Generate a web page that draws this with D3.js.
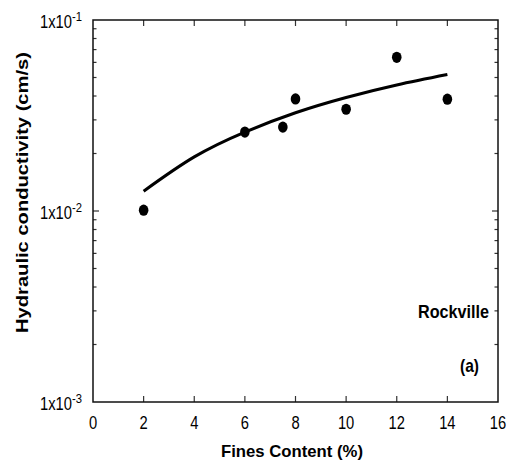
<!DOCTYPE html>
<html>
<head>
<meta charset="utf-8">
<script src="https://cdn.jsdelivr.net/npm/d3@7"></script>
<style>
body { margin: 0; background: #fff; }
text { font-family: "Liberation Sans", Arial, sans-serif; fill: #000; }
.bold { font-weight: bold; }
</style>
</head>
<body>
<svg id="chart" width="510" height="463"></svg>
<script>
// measured points, fines content (%) vs hydraulic conductivity (cm/s)
var fines = [2, 6, 7.5, 8, 10, 12, 14];
var kvals = [0.0101, 0.0259, 0.0275, 0.0386, 0.0341, 0.0638, 0.0385];

// fitted trend line
var fitX = [2, 4, 6, 8, 10, 12, 14];
var fitY = [0.0127, 0.0192, 0.0259, 0.0327, 0.0393, 0.0457, 0.0518];

var xTicks = [0, 2, 4, 6, 8, 10, 12, 14, 16];
var yDecades = [-3, -2, -1];

var pLeft = 93, pRight = 498, pTop = 20, pBottom = 402;

var svg = d3.select("#chart");

var x = d3.scaleLinear().domain([0, 16]).range([pLeft, pRight]);
var y = d3.scaleLog().domain([0.001, 0.1]).range([pBottom, pTop]);

// minor log ticks 2..9 in each decade
var minor = [];
for (var k = -3; k < -1; k++) {
    for (var m = 2; m <= 9; m++) minor.push(m * Math.pow(10, k));
}

var g = svg.append("g");

// ticks on all four sides, pointing inward
g.selectAll(".tb").data(xTicks.slice(1, -1)).enter()
    .append("line")
    .attr("x1", function(d){ return x(d); })
    .attr("x2", function(d){ return x(d); })
    .attr("y1", pBottom).attr("y2", pBottom - 6)
    .attr("stroke", "#333").attr("stroke-width", 1.2);
g.selectAll(".tt").data(xTicks.slice(1, -1)).enter()
    .append("line")
    .attr("x1", function(d){ return x(d); })
    .attr("x2", function(d){ return x(d); })
    .attr("y1", pTop).attr("y2", pTop + 6)
    .attr("stroke", "#333").attr("stroke-width", 1.2);

[pLeft, pRight].forEach(function(side) {
    var dir = side == pLeft ? 1 : -1;
    g.selectAll(null).data(minor).enter()
        .append("line")
        .attr("x1", side).attr("x2", side + dir * 3.5)
        .attr("y1", function(d){ return y(d); })
        .attr("y2", function(d){ return y(d); })
        .attr("stroke", "#333").attr("stroke-width", 1.2);
    g.append("line")
        .attr("x1", side).attr("x2", side + dir * 6)
        .attr("y1", y(0.01)).attr("y2", y(0.01))
        .attr("stroke", "#333").attr("stroke-width", 1.2);
});

// frame
g.append("rect")
    .attr("x", pLeft).attr("y", pTop)
    .attr("width", pRight - pLeft).attr("height", pBottom - pTop)
    .attr("fill", "none").attr("stroke", "#111").attr("stroke-width", 1.5);

// x tick labels (condensed look)
g.selectAll(".xl").data(xTicks).enter()
    .append("text")
    .attr("x", function(d){ return x(d); })
    .attr("y", pBottom + 27)
    .attr("text-anchor", "middle")
    .attr("font-size", 18)
    .attr("textLength", function(d){ return String(d).length * 8.2; })
    .attr("lengthAdjust", "spacingAndGlyphs")
    .text(function(d){ return d; });

// y tick labels 1x10^n, one text element each
var yl = g.selectAll(".yl").data(yDecades).enter()
    .append("text")
    .attr("x", pLeft - 11)
    .attr("y", function(d){ return y(Math.pow(10, d)) + 8; })
    .attr("text-anchor", "end")
    .attr("font-size", 18);
yl.append("tspan")
    .attr("textLength", 32).attr("lengthAdjust", "spacingAndGlyphs")
    .text("1x10");
yl.append("tspan")
    .attr("dy", -7)
    .attr("font-size", 12)
    .attr("textLength", 10).attr("lengthAdjust", "spacingAndGlyphs")
    .text(function(d){ return d; });

// trend line
var line = d3.line()
    .x(function(d){ return x(d[0]); })
    .y(function(d){ return y(d[1]); })
    .curve(d3.curveNatural);
g.append("path")
    .datum(d3.zip(fitX, fitY))
    .attr("d", line)
    .attr("fill", "none")
    .attr("stroke", "#000")
    .attr("stroke-width", 3);

// points
g.selectAll(".pt").data(d3.zip(fines, kvals)).enter()
    .append("ellipse")
    .attr("cx", function(d){ return x(d[0]); })
    .attr("cy", function(d){ return y(d[1]); })
    .attr("rx", 4.8).attr("ry", 5.6)
    .attr("fill", "#000");

// labels
g.append("text").attr("class", "bold")
    .attr("x", 489).attr("y", 318)
    .attr("text-anchor", "end")
    .attr("font-size", 19)
    .attr("textLength", 71).attr("lengthAdjust", "spacingAndGlyphs")
    .text("Rockville");
g.append("text").attr("class", "bold")
    .attr("x", 479).attr("y", 372)
    .attr("text-anchor", "end")
    .attr("font-size", 19)
    .attr("textLength", 19).attr("lengthAdjust", "spacingAndGlyphs")
    .text("(a)");

g.append("text").attr("class", "bold")
    .attr("x", 292).attr("y", 457)
    .attr("text-anchor", "middle")
    .attr("font-size", 17)
    .attr("textLength", 142).attr("lengthAdjust", "spacingAndGlyphs")
    .text("Fines Content  (%)");

g.append("text").attr("class", "bold")
    .attr("transform", "translate(28," + 192.5 + ") rotate(-90)")
    .attr("text-anchor", "middle")
    .attr("font-size", 16.5)
    .attr("textLength", 281).attr("lengthAdjust", "spacingAndGlyphs")
    .text("Hydraulic conductivity (cm/s)");
</script>
</body>
</html>
